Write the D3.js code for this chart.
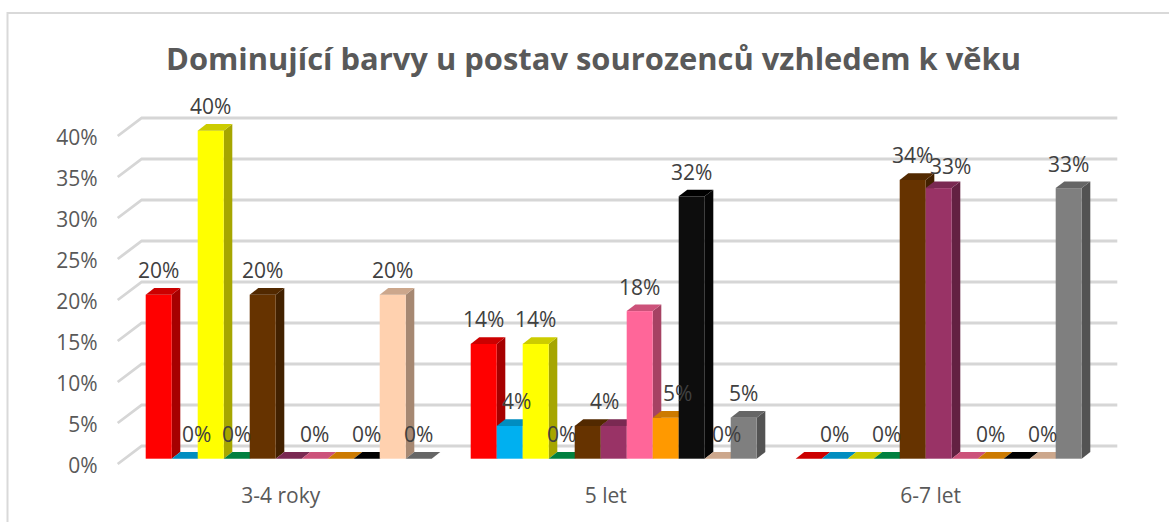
<!DOCTYPE html>
<html lang="cs"><head><meta charset="utf-8">
<script src="https://cdn.jsdelivr.net/npm/d3@7/dist/d3.min.js"></script>
<style>html,body{margin:0;background:#fff}svg{display:block}text{font-family:"Open Sans",sans-serif}</style>
</head><body><svg id="c" width="1169" height="522"></svg>
<script>
const titleText = "Dominující barvy u postav sourozenců vzhledem k věku";
const groups = ["3-4 roky", "5 let", "6-7 let"];
const seriesNames = ["červená","modrá","žlutá","zelená","hnědá","fialová","růžová","oranžová","černá","tělová","šedá"];
const seriesColors = ["#ff0000","#00b0f0","#ffff00","#00a04f","#663300","#993366","#ff6699","#ff9900","#0d0d0d","#ffd1af","#7f7f7f"];
const values3to4 = [20,0,40,0,20,0,0,0,0,20,0];
const values5 = [14,4,14,0,4,4,18,5,32,0,5];
const values6to7 = [0,0,0,0,34,33,0,0,0,0,33];
const yTicks = [0,5,10,15,20,25,30,35,40];
const groupValues = [values3to4, values5, values6to7];

// Labels the source chart does not show, and labels it moved off their bars.
const hiddenLabels = new Set(["0|5","0|7","1|4","2|0","2|2","2|6","2|8"]);
const labelNudge = new Map([["0|1",[12,0]],["1|1",[7,0]],["1|5",[-9,0]],["1|7",[12,0]],["1|9",[9,0]],["2|5",[12,2]]]);

const svg = d3.select("#c");
const depthX = 8.6, depthY = 6.6;          // bar depth
const wallX = 24, wallY = 18;              // side-wall depth
const y = d3.scaleLinear().domain([0,40]).range([458.7,130.7]);
const x0 = d3.scaleBand().domain(groups).range([126.2,1101.2]).paddingInner(0.12).paddingOuter(0.06);
const x1 = d3.scaleBand().domain(seriesNames).range([0,x0.bandwidth()]);

// frame
svg.append("path").attr("d","M7.5,522V13H1169").attr("fill","none").attr("stroke","#d9d9d9").attr("stroke-width",2);

// title
svg.append("text").attr("x",593.5).attr("y",70).attr("text-anchor","middle")
  .attr("font-size",30.9).attr("font-weight",700).attr("fill","#595959").text(titleText);

// gridlines
const gl = svg.append("g").attr("fill","none").attr("stroke","#d6d6d6").attr("stroke-width",2.8);
yTicks.forEach(t=>{
  const yb = y(t)-12.7, xs=117.7;
  gl.append("path").attr("d",`M${xs},${yb+wallY}L${xs+wallX},${yb}H1117.3`);
});

// y axis labels
const yAxis = d3.axisLeft(y).tickValues(yTicks).tickFormat(d=>d+"%").tickSize(0).tickPadding(0);
const ya = svg.append("g").attr("transform","translate(97.5,7)").call(yAxis);
ya.select(".domain").remove();
ya.selectAll("text").attr("font-size",21).attr("fill","#595959").attr("font-family",'"Open Sans",sans-serif');

// category labels
const xa = svg.append("g").attr("transform","translate(-8,502.5)").call(d3.axisBottom(x0).tickSize(0).tickPadding(0));
xa.select(".domain").remove();
xa.selectAll("text").attr("font-size",21).attr("fill","#595959").attr("dy",0).attr("font-family",'"Open Sans",sans-serif');

// bars
groups.forEach((g,gi)=>{
  const gx = svg.append("g");
  groupValues[gi].forEach((v,si)=>{
    const c = d3.color(seriesColors[si]);
    const name = seriesNames[si];
    const xl = x0(g)+x1(name), w = x1.bandwidth(), yt = y(v), yb = y(0);
    const topC = si===8 ? "#000000" : d3.rgb(c.r*.8,c.g*.8,c.b*.8).formatHex();
    const sideC = si===8 ? "#060606" : d3.rgb(c.r*.65,c.g*.65,c.b*.65).formatHex();
    if(v>0){
      gx.append("path").attr("fill",sideC)
        .attr("d",`M${xl+w},${yt}L${xl+w+depthX},${yt-depthY}V${yb-depthY}L${xl+w},${yb}Z`);
      gx.append("rect").attr("x",xl).attr("y",yt).attr("width",w).attr("height",yb-yt).attr("fill",c.formatHex());
    }
    gx.append("path").attr("fill",topC)
      .attr("d",`M${xl},${yt}L${xl+depthX},${yt-depthY}H${xl+w+depthX}L${xl+w},${yt}Z`);
  });
});

// data labels
groups.forEach((g,gi)=>{
  groupValues[gi].forEach((v,si)=>{
    const key = gi+"|"+si;
    if(hiddenLabels.has(key)) return;
    const n = labelNudge.get(key)||[0,0];
    svg.append("text").attr("x",x0(g)+x1(seriesNames[si])+x1.bandwidth()/2+n[0])
      .attr("y",y(v)-16.5+n[1]).attr("text-anchor","middle")
      .attr("font-size",21).attr("fill","#404040").text(v+"%");
  });
});
</script></body></html>
